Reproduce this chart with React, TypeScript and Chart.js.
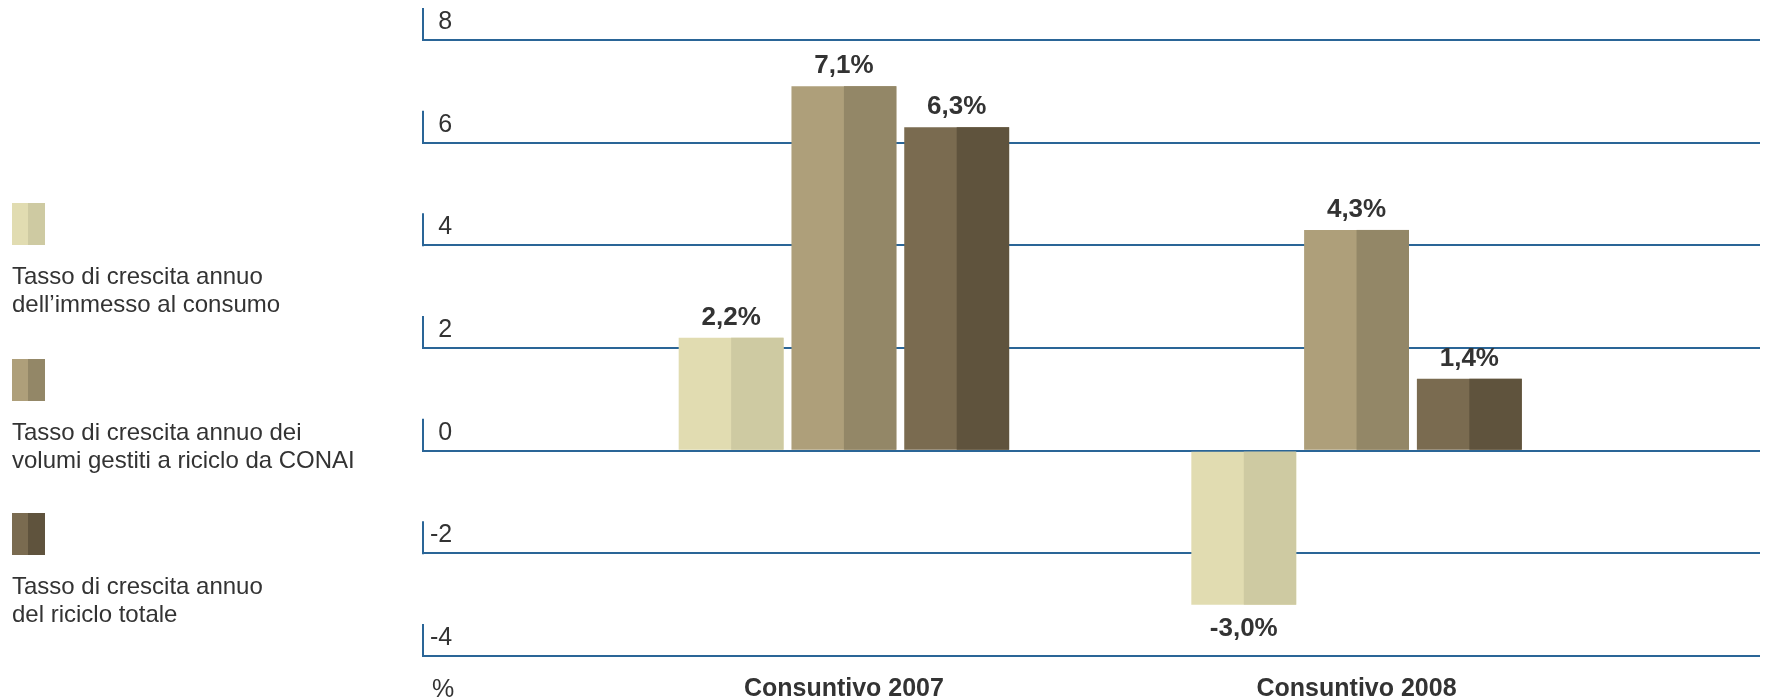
import React, { useEffect, useRef } from "react";
import { Chart, registerables } from "chart.js";

Chart.register(...registerables);

// ---- data ----
const categories = ["Consuntivo 2007", "Consuntivo 2008"];
const seriesLabels = [
  "Tasso di crescita annuo\ndell’immesso al consumo",
  "Tasso di crescita annuo dei\nvolumi gestiti a riciclo da CONAI",
  "Tasso di crescita annuo\ndel riciclo totale",
];
const immessoValues = [2.2, -3.0];
const conaiValues = [7.1, 4.3];
const ricicloValues = [6.3, 1.4];
const yTickValues = [-4, -2, 0, 2, 4, 6, 8];
const unitLabel = "%";

// ---- styles ----
const lightColors = ["#E1DCB1", "#AE9F7A", "#7A6B50"];
const darkColors = ["#CECAA2", "#938767", "#5F533D"];
const FONT = '"Liberation Sans", Arial, sans-serif';
const TEXT = "#333333";
const GRID = "#2A6597";

const fmt = (v: number) => v.toFixed(1).replace(".", ",") + "%";

const twoTonePlugin = {
  id: "twoTone",
  afterDatasetDraw(chart: any, args: any) {
    const { ctx, chartArea } = chart;
    ctx.save();
    ctx.beginPath();
    ctx.rect(chartArea.left, chartArea.top, chartArea.right - chartArea.left, chartArea.bottom - chartArea.top);
    ctx.clip();
    ctx.fillStyle = darkColors[args.index];
    args.meta.data.forEach((el: any) => {
      const { x, y, base, width } = el.getProps(["x", "y", "base", "width"], true);
      const top = Math.min(y, base);
      ctx.fillRect(x, top, width / 2, Math.abs(base - y));
    });
    ctx.restore();
  },
};

const labelsPlugin = {
  id: "valueLabels",
  afterDatasetsDraw(chart: any) {
    const { ctx } = chart;
    ctx.save();
    ctx.font = `bold 26px ${FONT}`;
    ctx.fillStyle = TEXT;
    ctx.textAlign = "center";
    ctx.textBaseline = "middle";
    chart.data.datasets.forEach((ds: any, di: number) => {
      const meta = chart.getDatasetMeta(di);
      meta.data.forEach((el: any, i: number) => {
        const v = ds.data[i].y;
        const { x, y } = el.getProps(["x", "y"], true);
        ctx.fillText(fmt(v), x, v >= 0 ? y - 20 : y + 24);
      });
    });
    ctx.restore();
  },
};

const axisDecorPlugin = {
  id: "axisDecor",
  afterDraw(chart: any) {
    const { ctx, chartArea, scales } = chart;
    const ys = scales.y;
    ctx.save();
    ctx.strokeStyle = GRID;
    ctx.lineWidth = 2;
    yTickValues.forEach((v) => {
      const py = ys.getPixelForValue(v);
      ctx.beginPath();
      ctx.moveTo(chartArea.left + 1, py - 32);
      ctx.lineTo(chartArea.left + 1, py + 1);
      ctx.stroke();
    });
    ctx.font = `25px ${FONT}`;
    ctx.fillStyle = TEXT;
    ctx.textAlign = "left";
    ctx.textBaseline = "middle";
    ctx.fillText(unitLabel, chartArea.left + 10, chartArea.bottom + 34);
    ctx.restore();
  },
};

export default function App() {
  const canvasRef = useRef<HTMLCanvasElement | null>(null);

  useEffect(() => {
    const series = [immessoValues, conaiValues, ricicloValues];
    const chart = new Chart(canvasRef.current as HTMLCanvasElement, {
      type: "bar",
      data: {
        datasets: series.map((vals, si) => ({
          label: seriesLabels[si],
          data: vals.map((v, i) => ({ x: i, y: v })),
          backgroundColor: lightColors[si],
          borderWidth: 0,
          categoryPercentage: 0.66,
          barPercentage: 0.93,
        })),
      },
      options: {
        responsive: false,
        animation: false,
        devicePixelRatio: 1,
        layout: { padding: { left: 422, right: 6, top: 40, bottom: 0 } },
        plugins: { legend: { display: false }, tooltip: { enabled: false } },
        scales: {
          x: {
            type: "linear",
            min: -0.823,
            max: 1.787,
            bounds: "data",
            offset: false,
            grid: { display: false, drawTicks: false },
            border: { display: false },
            afterBuildTicks: (axis: any) => {
              axis.ticks = categories.map((_, i) => ({ value: i }));
            },
            afterFit: (scale: any) => {
              scale.height = 44;
            },
            ticks: {
              autoSkip: false,
              maxRotation: 0,
              padding: 18,
              color: TEXT,
              font: { family: FONT, size: 25, weight: "bold" },
              callback: (_v: any, i: number) => categories[i],
            },
          },
          y: {
            type: "linear",
            min: -4,
            max: 8,
            grid: { color: GRID, lineWidth: 2, drawTicks: false },
            border: { display: false },
            afterBuildTicks: (axis: any) => {
              axis.ticks = yTickValues.map((v) => ({ value: v }));
            },
            afterFit: (scale: any) => {
              scale.width = 0;
            },
            ticks: {
              mirror: true,
              crossAlign: "far",
              padding: 8,
              labelOffset: -18,
              color: TEXT,
              font: { family: FONT, size: 25 },
              callback: (v: any) => String(v),
            },
          },
        },
      } as any,
      plugins: [twoTonePlugin, labelsPlugin, axisDecorPlugin],
    });
    return () => chart.destroy();
  }, []);

  const legendTops = [203, 359, 513];

  return (
    <div style={{ position: "fixed", left: 0, top: 0, width: 1766, height: 700, background: "#fff" }}>
      <canvas ref={canvasRef} width={1766} height={700} style={{ position: "absolute", left: 0, top: 0 }} />
      {seriesLabels.map((lab, i) => (
        <div key={i} style={{ position: "absolute", left: 12, top: legendTops[i] }}>
          <div style={{ display: "flex", width: 33, height: 42 }}>
            <div style={{ width: 16, height: 42, background: lightColors[i] }} />
            <div style={{ width: 17, height: 42, background: darkColors[i] }} />
          </div>
          <div
            style={{
              marginTop: 17,
              fontFamily: FONT,
              fontSize: 24,
              lineHeight: "28px",
              color: TEXT,
              whiteSpace: "pre-line",
            }}
          >
            {lab}
          </div>
        </div>
      ))}
    </div>
  );
}
